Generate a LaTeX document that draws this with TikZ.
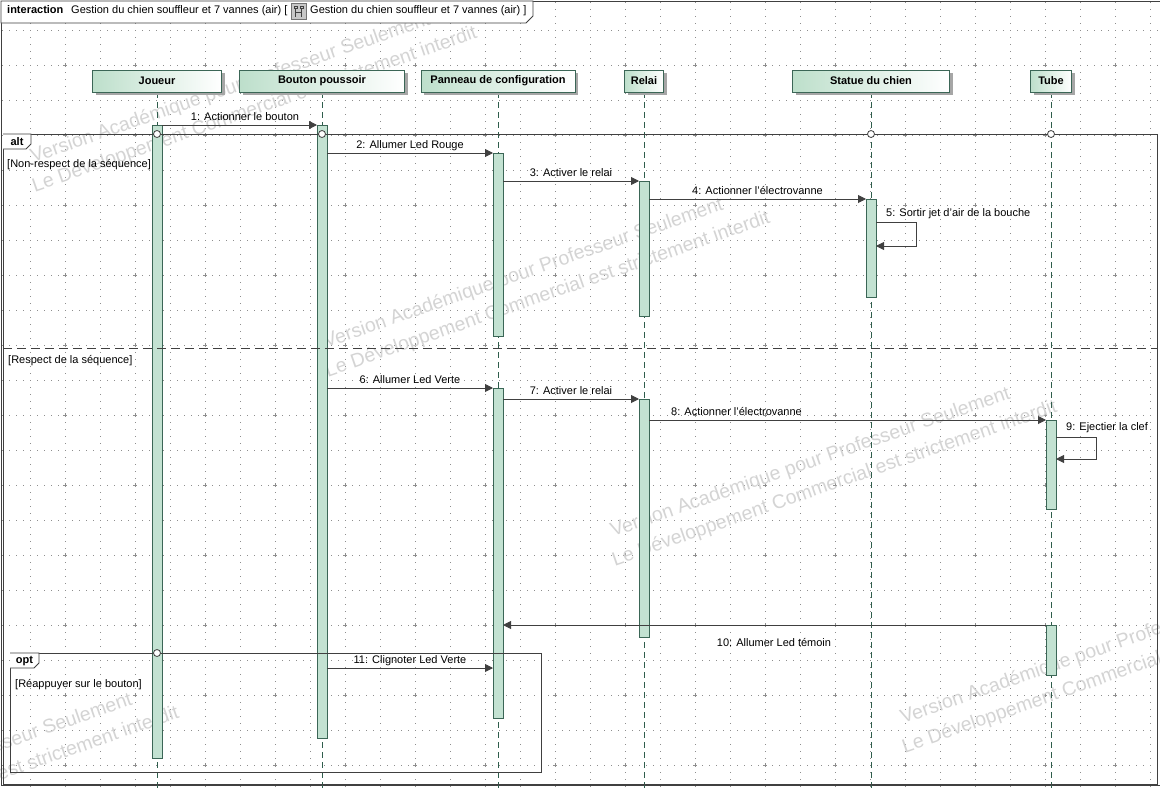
\documentclass[tikz,border=0pt]{standalone}
\usepackage{fontspec}
\setmainfont{Liberation Sans}
\usetikzlibrary{arrows.meta,shadows}

\definecolor{lifegreen}{HTML}{2F5D4C}
\definecolor{barfill}{HTML}{C3E2D2}
\definecolor{barline}{HTML}{3B6656}
\definecolor{headfill}{HTML}{BDDFCB}
\definecolor{msgline}{HTML}{404040}
\definecolor{wmgray}{HTML}{D4D4D4}
\definecolor{griddot}{HTML}{8E8E8E}

\newcommand{\filigrane}[2]{%
  \begin{scope}[shift={(#1,#2)},rotate=19.2]
    \node[wmk] (w#1a) at (0,0) {Version Académique pour Professeur Seulement};
    \node[wmk] (w#1b) at (-8,28) {Le Développement Commercial est strictement interdit};
  \end{scope}}

\begin{document}
\begin{tikzpicture}[x=1pt,y=-1pt,
  every node/.style={font=\fontsize{11}{13}\selectfont, inner sep=0pt},
  gridline/.style={draw=griddot, line width=0.8pt, dash pattern=on 0.8pt off 6.2pt},
  gridplus/.style={draw=griddot, line width=0.8pt},
  wmk/.style={anchor=base west, text=wmgray, font=\fontsize{19.5}{22}\selectfont, transform shape},
  head/.style={draw=barline, line width=1pt, left color=headfill, right color=white,
    minimum height=22pt, font=\bfseries\fontsize{11}{13}\selectfont,
    drop shadow={shadow xshift=3pt, shadow yshift=-3pt, fill=black!35, opacity=1}},
  lifeline/.style={draw=lifegreen, line width=0.9pt, dash pattern=on 6pt off 4pt},
  bar/.style={rectangle, anchor=north, draw=barline, fill=barfill, line width=1pt, minimum width=10pt},
  msg/.style={draw=msgline, line width=0.9pt, -{Triangle[length=8pt,width=8pt]}},
  frag/.style={draw=msgline, line width=0.9pt},
  sep/.style={draw=msgline, line width=0.9pt, dash pattern=on 9pt off 5pt},
  gate/.style={circle, draw=msgline, fill=white, line width=0.8pt, minimum size=7pt},
  lbl/.style={anchor=base},
  guard/.style={anchor=base west}]

  \useasboundingbox (0,0) rectangle (1160,788);
  \fill[white] (0,0) rectangle (1160,788);

  \foreach \gx in {30,65,...,1150} \draw[gridline] (\gx,2) -- (\gx,788);
  \foreach \gy in {30,65,...,765} \draw[gridline] (2,\gy) -- (1160,\gy);
  \foreach \gx in {65,135,...,1135}
    \foreach \gy in {65,135,...,765}
      \draw[gridplus] (\gx-2,\gy) -- (\gx+2,\gy) (\gx,\gy-2) -- (\gx,\gy+2);

  \begin{scope}
    \clip (0,0) rectangle (1160,788);
    \filigrane{33}{163}
    \filigrane{326}{348}
    \filigrane{613}{537}
    \filigrane{903}{724}
    \filigrane{-265}{843}
  \end{scope}

  \draw[frag] (1,1) rectangle (1162,785.5);
  \draw[frag, fill=white] (1,1) -- (533,1) -- (533,16) -- (526,23) -- (1,23) -- cycle;
  \node[anchor=base west] (t1) at (7,13.5) {\textbf{interaction}};
  \node[anchor=base west] (t2) at (71,13.5) {Gestion du chien souffleur et 7 vannes (air) [};
  \node[draw=black!55, fill=black!22, line width=0.7pt, minimum width=15pt, minimum height=16pt,
    anchor=north west] (icon) at (291,3) {};
  \draw[black!75, line width=0.6pt] (294,6) rectangle (297,8) (300,6) rectangle (303,8)
    (295.5,8) -- (295.5,17) (301.5,8) -- (301.5,17) (295.5,12) -- (301.5,12);
  \node[anchor=base west] (t3) at (310,13.5) {Gestion du chien souffleur et 7 vannes (air) ]};

  \coordinate (j9) at (157,788);
  \coordinate (b9) at (322,788);
  \coordinate (p9) at (498,788);
  \coordinate (r9) at (644,788);
  \coordinate (s9) at (871,788);
  \coordinate (t9) at (1051,788);

  \draw[lifeline] (157,92) -- (j9);
  \draw[lifeline] (322,92) -- (b9);
  \draw[lifeline] (498,92) -- (p9);
  \draw[lifeline] (644,92) -- (r9);
  \draw[lifeline] (871,92) -- (s9);
  \draw[lifeline] (1051,92) -- (t9);

  \node[head, minimum width=129pt] (joueur) at (157,81) {Joueur};
  \node[head, minimum width=165pt] (bouton) at (322,81) {Bouton poussoir};
  \node[head, minimum width=154pt] (panneau) at (498,81) {Panneau de configuration};
  \node[head, minimum width=39pt] (relai) at (644,81) {Relai};
  \node[head, minimum width=157pt] (statue) at (871,81) {Statue du chien};
  \node[head, minimum width=41pt] (tube) at (1051,81) {Tube};

  \node[bar, minimum height=633pt] (jbar) at (157,125) {};
  \node[bar, minimum height=613pt] (bbar) at (322,125) {};
  \node[bar, minimum height=183pt] (pbar1) at (498,153) {};
  \node[bar, minimum height=135pt] (rbar1) at (644,181) {};
  \node[bar, minimum height=98pt] (sbar) at (871,199) {};
  \node[bar, minimum height=330pt] (pbar2) at (498,388) {};
  \node[bar, minimum height=238pt] (rbar2) at (644,399) {};
  \node[bar, minimum height=89pt] (tbar1) at (1051,420) {};
  \node[bar, minimum height=50pt] (tbar2) at (1051,625) {};

  \draw[frag] (3,134) rectangle (1157.5,784);
  \draw[frag, fill=white] (3,134) -- (31,134) -- (31,144) -- (26,149) -- (3,149);
  \node[font=\bfseries\fontsize{11}{13}\selectfont] (alt) at (17,142) {alt};
  \node[guard] (g1) at (7,167) {[Non-respect de la séquence]};
  \draw[sep] (3,348) -- (1157.5,348);
  \node[guard] (g2) at (8,363) {[Respect de la séquence]};

  \draw[frag] (10,653) rectangle (541,772);
  \draw[frag, fill=white] (10,653) -- (39,653) -- (39,663) -- (34,668) -- (10,668);
  \node[font=\bfseries\fontsize{11}{13}\selectfont] (opt) at (24.5,661) {opt};
  \node[guard] (g3) at (15,687) {[Réappuyer sur le bouton]};

  \node[gate] (c1) at (157,134) {};
  \node[gate] (c2) at (322,134) {};
  \node[gate] (c3) at (871,134) {};
  \node[gate] (c4) at (1051,134) {};
  \node[gate] (c5) at (157,653) {};

  \coordinate (m1a) at (162,125);
  \coordinate (m1b) at (317,125);
  \coordinate (m2a) at (327,153);
  \coordinate (m2b) at (493,153);
  \coordinate (m3a) at (503,181);
  \coordinate (m3b) at (639,181);
  \coordinate (m4a) at (649,199);
  \coordinate (m4b) at (866,199);
  \coordinate (m5a) at (876,222);
  \coordinate (m5b) at (916,222);
  \coordinate (m5c) at (916,246);
  \coordinate (m5d) at (876,246);
  \coordinate (m6a) at (327,388);
  \coordinate (m6b) at (493,388);
  \coordinate (m7a) at (503,399);
  \coordinate (m7b) at (639,399);
  \coordinate (m8a) at (649,420);
  \coordinate (m8b) at (1046,420);
  \coordinate (m9a) at (1056,437);
  \coordinate (m9b) at (1096,437);
  \coordinate (m9c) at (1096,459);
  \coordinate (m9d) at (1056,459);
  \coordinate (m10a) at (1046,625);
  \coordinate (m10b) at (503,625);
  \coordinate (m11a) at (327,668);
  \coordinate (m11b) at (493,668);

  \draw[msg] (m1a) -- (m1b);
  \draw[msg] (m2a) -- (m2b);
  \draw[msg] (m3a) -- (m3b);
  \draw[msg] (m4a) -- (m4b);
  \draw[msg] (m5a) -- (m5b) -- (m5c) -- (m5d);
  \draw[msg] (m6a) -- (m6b);
  \draw[msg] (m7a) -- (m7b);
  \draw[msg] (m8a) -- (m8b);
  \draw[msg] (m9a) -- (m9b) -- (m9c) -- (m9d);
  \draw[msg] (m10a) -- (m10b);
  \draw[msg] (m11a) -- (m11b);

  \node[lbl] (l1) at (245,120) {1: Actionner le bouton};
  \node[lbl] (l2) at (410,148) {2: Allumer Led Rouge};
  \node[lbl] (l3) at (571,176) {3: Activer le relai};
  \node[lbl] (l4) at (757.5,194) {4: Actionner l'électrovanne};
  \node[guard] (l5) at (886,216) {5: Sortir jet d'air de la bouche};
  \node[lbl] (l6) at (410,383) {6: Allumer Led Verte};
  \node[lbl] (l7) at (571,394) {7: Activer le relai};
  \node[guard] (l8) at (671,415) {8: Actionner l'électrovanne};
  \node[guard] (l9) at (1066,430) {9: Ejectier la clef};
  \node[lbl] (l10) at (774,646) {10: Allumer Led témoin};
  \node[lbl] (l11) at (410,663) {11: Clignoter Led Verte};
\end{tikzpicture}
\end{document}
